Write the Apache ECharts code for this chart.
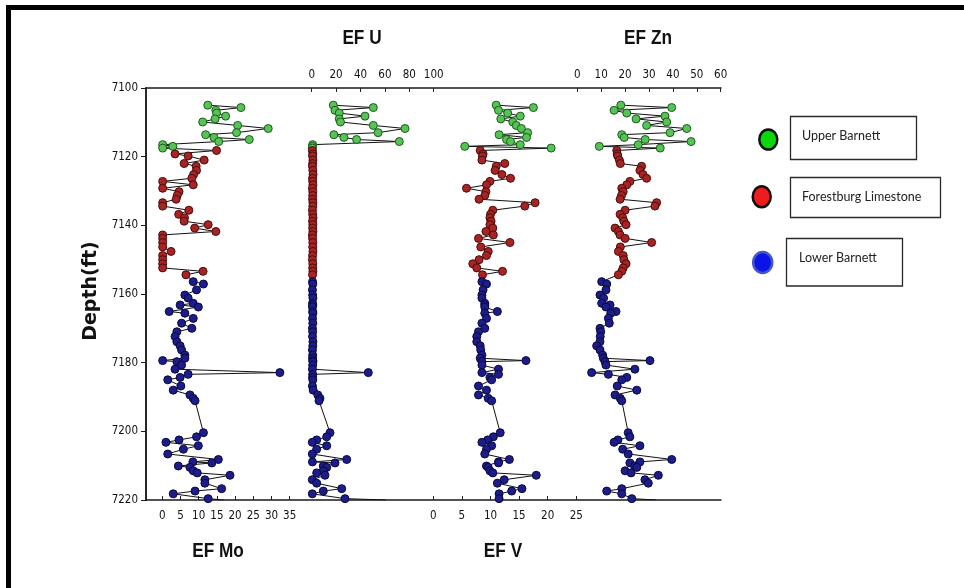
<!DOCTYPE html>
<html>
<head>
<meta charset="utf-8">
<script src="https://cdn.jsdelivr.net/npm/echarts@6/dist/echarts.min.js"></script>
<style>
html,body{margin:0;padding:0;background:#fff;}
#chart{width:964px;height:588px;}
</style>
</head>
<body>
<div id="chart"></div>
<script>
// ---------------- DATA ----------------
const depthTicks = [7100, 7120, 7140, 7160, 7180, 7200, 7220];
const formations = ['Upper Barnett', 'Forestburg Limestone', 'Lower Barnett'];

const depthUpper = [7105.0, 7105.7, 7106.5, 7107.3, 7108.2, 7109.0, 7109.9, 7110.9, 7111.8, 7113.0, 7113.6, 7114.4, 7115.0, 7115.6, 7116.5, 7117.0, 7117.5];
const moUpper = [12.5, 21.6, 14.7, 14.9, 17.4, 14.5, 11.1, 20.7, 29.1, 20.4, 11.9, 14.2, 23.9, 15.5, 0.1, 2.9, 0.1];
const uUpper  = [17.7, 50.5, 19.1, 22.6, 43.7, 22.6, 23.6, 50.5, 76.5, 54.4, 18.2, 26.4, 36.8, 71.8, 0.8, 0.6, 0.5];
const vUpper  = [11.0, 17.5, 11.4, 13.0, 15.2, 11.8, 13.9, 14.5, 15.4, 16.5, 11.5, 16.3, 12.8, 13.5, 15.2, 5.5, 20.6];
const znUpper = [18.2, 39.5, 15.4, 20.7, 36.7, 24.6, 37.4, 29.0, 45.8, 38.8, 18.6, 19.6, 28.4, 47.6, 25.5, 9.2, 34.7];

const depthForest = [7118.2, 7119.2, 7119.8, 7121.0, 7122.0, 7122.8, 7124.0, 7125.2, 7126.3, 7127.2, 7128.2, 7129.2, 7130.2, 7131.3, 7132.4, 7133.4, 7134.4, 7135.6, 7136.8, 7137.8, 7138.8, 7139.8, 7140.8, 7141.8, 7142.8, 7143.8, 7145.0, 7146.3, 7147.6, 7148.8, 7150.0, 7151.2, 7152.4, 7153.4, 7154.4];
const moForest = [14.9, 3.5, 7.1, 11.5, 6.0, 9.3, 9.4, 8.6, 8.1, 0.1, 8.5, 0.1, 4.6, 4.1, 3.8, 0.1, 0.1, 7.3, 4.5, 6.1, 6.0, 12.6, 8.9, 14.7, 0.1, 0.1, 0.1, 0.1, 2.4, 0.1, 0.1, 0.1, 0.1, 11.2, 6.5];
const uForest  = [0.6, 0.9, 0.7, 1.0, 0.8, 0.6, 0.9, 1.1, 0.7, 0.8, 1.0, 0.6, 0.9, 0.8, 0.7, 1.0, 0.9, 0.6, 0.8, 1.1, 0.7, 0.9, 0.8, 1.0, 0.6, 0.7, 0.9, 0.8, 1.0, 0.7, 0.6, 0.9, 0.8, 1.0, 0.7];
const vForest  = [8.2, 8.7, 8.6, 8.5, 12.5, 11.0, 10.8, 12.0, 13.5, 9.9, 9.3, 5.8, 9.2, 9.0, 8.0, 17.8, 16.0, 10.4, 10.0, 9.9, 10.1, 9.9, 10.4, 9.2, 10.5, 7.9, 13.4, 8.3, 9.6, 9.3, 8.0, 6.9, 7.6, 12.1, 8.6];
const znForest = [16.5, 16.7, 16.9, 17.6, 18.0, 26.9, 26.2, 27.5, 29.0, 22.0, 20.7, 18.6, 19.2, 18.5, 17.9, 33.2, 32.5, 20.0, 17.9, 19.0, 19.5, 20.4, 15.8, 17.2, 17.9, 20.0, 31.1, 18.0, 17.2, 19.2, 19.5, 20.4, 19.2, 18.6, 17.2];

const depthLower = [7156.4, 7157.1, 7158.8, 7160.3, 7161.2, 7162.7, 7163.2, 7163.8, 7165.1, 7165.6, 7167.1, 7168.5, 7170.0, 7171.0, 7172.4, 7173.9, 7175.1, 7176.3, 7177.8, 7178.7, 7179.4, 7179.7, 7180.7, 7181.9, 7182.9, 7183.4, 7184.3, 7185.0, 7186.8, 7188.0, 7189.4, 7190.4, 7191.1, 7200.4, 7201.6, 7202.5, 7203.2, 7204.2, 7205.2, 7206.6, 7208.2, 7208.9, 7209.2, 7210.1, 7210.5, 7211.5, 7212.1, 7212.8, 7214.1, 7215.1, 7216.7, 7217.4, 7218.2, 7219.6];
const moLower = [8.5, 11.3, 9.4, 6.2, 7.1, 8.5, 4.9, 9.9, 1.9, 6.2, 8.5, 5.3, 8.1, 4.0, 3.5, 4.0, 4.9, 5.3, 6.2, 6.2, 0.1, 4.0, 5.3, 3.5, 32.3, 7.1, 4.9, 1.5, 5.1, 3.0, 7.6, 8.5, 9.0, 11.3, 9.4, 4.6, 1.0, 9.9, 5.8, 1.5, 15.4, 8.4, 13.6, 4.4, 7.6, 8.5, 9.6, 18.6, 11.7, 11.7, 16.3, 9.0, 3.0, 12.6];
const uLower  = [0.7, 0.9, 0.6, 0.8, 1.0, 0.7, 0.9, 0.6, 0.8, 1.0, 0.7, 0.9, 0.6, 0.8, 0.7, 1.0, 0.9, 0.6, 0.8, 0.7, 0.9, 1.0, 0.8, 0.6, 46.4, 0.8, 0.7, 0.9, 0.6, 1.2, 5.0, 6.8, 6.0, 15.0, 12.3, 4.1, 0.5, 12.3, 4.1, 0.5, 28.7, 0.6, 19.1, 9.5, 12.3, 9.5, 4.1, 10.9, 0.5, 4.1, 24.6, 9.5, 0.5, 27.3];
const vLower  = [8.5, 9.3, 8.7, 8.5, 8.5, 9.0, 9.0, 9.0, 11.2, 9.0, 9.3, 8.5, 9.0, 7.9, 7.6, 7.6, 8.2, 8.3, 8.5, 8.2, 16.2, 8.5, 8.5, 11.4, 8.5, 11.4, 9.9, 10.2, 7.9, 9.3, 7.9, 9.6, 10.2, 11.7, 10.5, 9.5, 8.5, 10.2, 9.3, 9.0, 13.3, 11.4, 11.4, 9.3, 9.6, 9.9, 10.4, 18.0, 12.4, 11.2, 15.5, 13.7, 11.5, 11.5];
const znLower = [10.2, 12.3, 12.0, 9.5, 11.0, 10.2, 13.7, 12.0, 16.2, 14.0, 13.0, 13.4, 9.5, 9.8, 9.6, 9.5, 8.1, 9.5, 10.6, 10.9, 30.4, 11.6, 12.0, 24.1, 6.0, 13.0, 20.7, 18.6, 16.7, 24.9, 15.8, 18.0, 18.6, 21.3, 22.0, 17.0, 15.4, 26.2, 19.0, 21.3, 39.5, 26.2, 22.0, 24.0, 24.9, 20.0, 22.5, 33.9, 28.3, 29.7, 18.6, 12.3, 18.6, 22.8];

// the connecting line runs on to the 7220 ft axis edge (its marker is not drawn)
const depthTail = [7220.0];
const moTail = [16.8];
const uTail = [61];
const vTail = [11.6];
const znTail = [33];

const panelNames = ['EF Mo', 'EF U', 'EF V', 'EF Zn'];
const moTicks = [0, 35, 5];
const uTicks = [0, 100, 20];
const vTicks = [0, 25, 5];
const znTicks = [0, 60, 10];

// ---------------- STYLE / LAYOUT ----------------
const TICKFONT = "'DejaVu Sans Condensed','Liberation Sans',sans-serif";
const BOLDFONT = "'Liberation Sans',Arial,sans-serif";
const TOP = 88, H = 412;
const colors = {
  fill: ['#55c455', '#a82424', '#1c1c8c'],
  border: ['#1d5a1d', '#4a0c0c', '#0a0a3c']
};

function pairs(vals, depths) { return vals.map((v, i) => [v, depths[i]]); }

const panels = [
  { up: moUpper, fo: moForest, lo: moLower, tail: moTail, ticks: moTicks, pos: 'bottom', left: 162.3, width: 127.4 },
  { up: uUpper, fo: uForest, lo: uLower, tail: uTail, ticks: uTicks, pos: 'top', left: 311.7, width: 122.0 },
  { up: vUpper, fo: vForest, lo: vLower, tail: vTail, ticks: vTicks, pos: 'bottom', left: 433.3, width: 143.0 },
  { up: znUpper, fo: znForest, lo: znLower, tail: znTail, ticks: znTicks, pos: 'top', left: 577.3, width: 143.4 }
];

const grid = [{ left: 146, top: TOP, width: 575, height: H }];
const frameLine = { show: true, lineStyle: { color: '#1a1a1a', width: 1.5 } };
const xAxis = [
  { gridIndex: 0, type: 'value', min: 0, max: 1, position: 'bottom', axisLine: frameLine, axisTick: { show: false }, axisLabel: { show: false }, splitLine: { show: false } },
  { gridIndex: 0, type: 'value', min: 0, max: 1, position: 'top', axisLine: frameLine, axisTick: { show: false }, axisLabel: { show: false }, splitLine: { show: false } }
];
const yAxis = [
  { gridIndex: 0, type: 'value', inverse: true, min: depthTicks[0], max: depthTicks[depthTicks.length - 1], interval: 20, position: 'left',
    axisLine: frameLine,
    axisTick: { show: true, inside: false, length: 5, lineStyle: { color: '#1a1a1a' } },
    axisLabel: { show: true, color: '#111', fontSize: 11.5, fontFamily: TICKFONT, margin: 8, formatter: v => String(v) },
    splitLine: { show: false } },
  { gridIndex: 0, type: 'value', inverse: true, min: 7100, max: 7220, position: 'right',
    axisLine: frameLine, axisTick: { show: false }, axisLabel: { show: false }, splitLine: { show: false } }
];
const series = [];

panels.forEach((p, k) => {
  const gi = k + 1;        // grid index
  const ai = k + 2;        // axis index (0,1 are the frame axes)
  grid.push({ left: p.left, top: TOP, width: p.width, height: H });
  xAxis.push({
    gridIndex: gi, type: 'value', min: p.ticks[0], max: p.ticks[1], interval: p.ticks[2], position: p.pos,
    axisLine: { show: false },
    axisTick: { show: true, inside: true, length: 4, lineStyle: { color: '#222' } },
    axisLabel: { show: true, color: '#111', fontSize: 11.5, fontFamily: TICKFONT, margin: p.pos === 'top' ? 7 : 10 },
    splitLine: { show: false }
  });
  yAxis.push({ gridIndex: gi, type: 'value', inverse: true, min: 7100, max: 7220, show: false, splitLine: { show: false } });
  const all = pairs(p.up, depthUpper).concat(pairs(p.fo, depthForest), pairs(p.lo, depthLower), pairs(p.tail, depthTail));
  series.push({
    type: 'line', xAxisIndex: ai, yAxisIndex: ai, data: all, symbol: 'none', clip: true, z: 2,
    lineStyle: { color: '#111', width: 1 }, silent: true
  });
  [[p.up, depthUpper], [p.fo, depthForest], [p.lo, depthLower]].forEach((d, f) => {
    series.push({
      type: 'scatter', name: formations[f], xAxisIndex: ai, yAxisIndex: ai, data: pairs(d[0], d[1]),
      symbol: 'circle', symbolSize: 8, z: 3, clip: false,
      itemStyle: { color: colors.fill[f], borderColor: colors.border[f], borderWidth: 1, opacity: 1 }
    });
  });
});

const titleStyle = { fontSize: 21, fontWeight: 'bold', fontFamily: BOLDFONT, fill: '#111', textAlign: 'center', textVerticalAlign: 'middle' };
const graphic = [
  { type: 'rect', shape: { x: 8.5, y: 7.5, width: 1200, height: 1200 }, style: { fill: 'none', stroke: '#000', lineWidth: 5 }, silent: true },
  { type: 'text', x: 362, y: 38, scaleX: 0.82, style: Object.assign({ text: panelNames[1] }, titleStyle) },
  { type: 'text', x: 648, y: 38, scaleX: 0.82, style: Object.assign({ text: panelNames[3] }, titleStyle) },
  { type: 'text', x: 218, y: 551, scaleX: 0.82, style: Object.assign({ text: panelNames[0] }, titleStyle) },
  { type: 'text', x: 503, y: 551, scaleX: 0.82, style: Object.assign({ text: panelNames[2] }, titleStyle) },
  { type: 'text', x: 91, y: 291, rotation: Math.PI / 2, style: { text: 'Depth(ft)', fontSize: 19, fontWeight: 'bold', fontFamily: "'DejaVu Sans',sans-serif", fill: '#111', textAlign: 'center', textVerticalAlign: 'middle' } },
  // legend
  { type: 'ellipse', shape: { cx: 768.3, cy: 139.5, rx: 9, ry: 10 }, style: { fill: '#0ad80a', stroke: '#111', lineWidth: 2.5 } },
  { type: 'rect', shape: { x: 790.5, y: 116.5, width: 126, height: 43 }, style: { fill: '#fff', stroke: '#2a2a2a', lineWidth: 1.3 } },
  { type: 'text', x: 802, y: 136, style: { text: formations[0], fontSize: 12.5, fontFamily: 'Lato,sans-serif', fill: '#222', textVerticalAlign: 'middle' } },
  { type: 'ellipse', shape: { cx: 761.7, cy: 196.7, rx: 9, ry: 10.5 }, style: { fill: '#ee1c1c', stroke: '#111', lineWidth: 2.5 } },
  { type: 'rect', shape: { x: 790.5, y: 177.5, width: 150, height: 40 }, style: { fill: '#fff', stroke: '#2a2a2a', lineWidth: 1.3 } },
  { type: 'text', x: 802, y: 197, style: { text: formations[1], fontSize: 12.5, fontFamily: 'Lato,sans-serif', fill: '#222', textVerticalAlign: 'middle' } },
  { type: 'ellipse', shape: { cx: 762.7, cy: 262.5, rx: 9.5, ry: 10.5 }, style: { fill: '#0a14e6', stroke: '#4455cc', lineWidth: 2.5 } },
  { type: 'rect', shape: { x: 786.5, y: 238.5, width: 116, height: 47.5 }, style: { fill: '#fff', stroke: '#2a2a2a', lineWidth: 1.3 } },
  { type: 'text', x: 799, y: 257.5, style: { text: formations[2], fontSize: 12.5, fontFamily: 'Lato,sans-serif', fill: '#222', textVerticalAlign: 'middle' } }
];

const chart = echarts.init(document.getElementById('chart'), null, { renderer: 'canvas' });
chart.setOption({
  animation: false,
  backgroundColor: '#fff',
  grid, xAxis, yAxis, series, graphic
});
</script>
</body>
</html>
